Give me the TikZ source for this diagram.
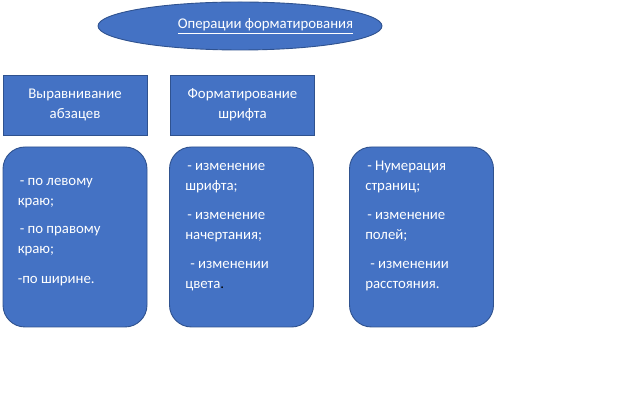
\documentclass[tikz,border=0pt]{standalone}
\usepackage{fontspec}
\setmainfont{Carlito}
\usetikzlibrary{shapes.geometric,calc}
\definecolor{fillblue}{HTML}{4472C4}
\definecolor{lineblue}{HTML}{2F528F}
\tikzset{
  shapebase/.style={fill=fillblue, draw=lineblue, line width=0.9pt, inner sep=0pt},
  titleshape/.style={shapebase, ellipse, minimum width=284pt, minimum height=48pt},
  headbox/.style={shapebase, rectangle, minimum width=144pt, minimum height=60pt},
  listbox/.style={shapebase, rectangle, rounded corners=22pt, minimum width=144pt, minimum height=180pt},
  boxtext/.style={text=white, font=\fontsize{14.8}{19.5}\selectfont, align=center, inner sep=0pt},
  listtext/.style={text=white, font=\fontsize{14.8}{20}\selectfont, align=left, inner sep=0pt, anchor=base west},
}
\begin{document}
\begin{tikzpicture}[x=1pt,y=-1pt]
\useasboundingbox (0,0) rectangle (621,411);
% title
\node[titleshape] (title) at (240,26) {};
\node[boxtext, anchor=base] (titletext) at (265.5,29) {\underline{Операции форматирования}};
% headers
\node[headbox] (h1) at (75,105) {};
\node[boxtext] (h1t) at (h1) {Выравнивание\\абзацев};
\node[headbox] (h2) at (242.5,105) {};
\node[boxtext] (h2t) at (h2) {Форматирование\\шрифта};
% list boxes
\node[listbox] (l1) at (75,237) {};
\node[listbox] (l2) at (241.5,237) {};
\node[listbox] (l3) at (421.5,237) {};
\node[listtext] (l1t) at ($(l1.north west)+(15,137)$) {\hspace{2pt}- по левому\\краю;\\[8pt]\hspace{2pt}- по правому\\краю;\\[10pt]-по ширине.};
\node[listtext] (l2t) at ($(l2.north west)+(16,142)$) {\hspace{2pt}- изменение\\шрифта;\\[9pt]\hspace{2pt}- изменение\\начертания;\\[9pt]\hspace{5pt}- изменении\\цвета\textcolor{black}{.}};
\node[listtext] (l3t) at ($(l3.north west)+(16,142)$) {\hspace{2pt}- Нумерация\\страниц;\\[9pt]\hspace{2pt}- изменение\\полей;\\[9pt]\hspace{5pt}- изменении\\расстояния.};
\end{tikzpicture}
\end{document}
